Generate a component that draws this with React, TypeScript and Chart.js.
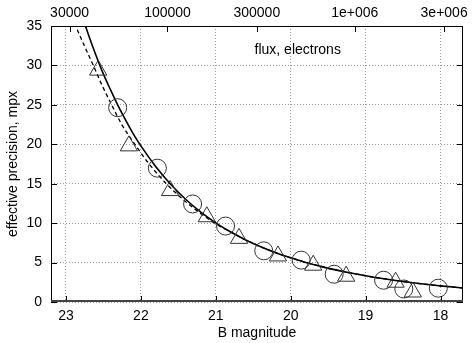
import React, { useEffect, useRef } from 'react';
import { Chart, registerables } from 'chart.js';

Chart.register(...registerables);

// ---- data ----
const magTickValues = [23, 22, 21, 20, 19, 18];
const precisionTickValues = [0, 5, 10, 15, 20, 25, 30, 35];
const fluxTickValues = [30000, 100000, 300000, 1000000, 3000000];
const fluxTickLabels = ['30000', '100000', '300000', '1e+006', '3e+006'];

const solidMag = [22.8, 22.7, 22.6, 22.5, 22.4, 22.3, 22.2, 22.1, 22.0, 21.8, 21.6, 21.4, 21.2, 21.0, 20.8, 20.6, 20.4, 20.2, 20.0, 19.8, 19.6, 19.4, 19.2, 19.0, 18.8, 18.6, 18.4, 18.2, 18.0, 17.7];
const solidPrec = [36.7, 33.9, 31.3, 28.9, 26.8, 24.8, 23.0, 21.3, 19.8, 17.15, 14.9, 13.0, 11.4, 10.04, 8.87, 7.87, 7.0, 6.25, 5.6, 5.02, 4.52, 4.07, 3.68, 3.33, 3.01, 2.73, 2.48, 2.25, 2.05, 1.77];

const dashedMag = [22.92, 22.87, 22.755, 22.635, 22.52, 22.39, 22.255, 22.08, 21.89, 21.66, 21.375, 21.015, 20.8, 20.6, 20.4, 20.2, 20.0, 19.8, 19.6, 19.4, 19.2, 19.0, 18.8, 18.6, 18.4, 18.2, 18.0, 17.7];
const dashedPrec = [36.2, 35.0, 32.5, 30.0, 27.5, 25.0, 22.5, 20.0, 17.5, 15.0, 12.5, 10.0, 8.87, 7.87, 7.0, 6.25, 5.6, 5.02, 4.52, 4.07, 3.68, 3.33, 3.01, 2.73, 2.48, 2.25, 2.05, 1.77];

const circleMag = [22.31, 21.78, 21.31, 20.87, 20.36, 19.86, 19.42, 18.76, 18.49, 18.03];
const circlePrec = [24.64, 16.97, 12.43, 9.63, 6.49, 5.31, 3.52, 2.76, 1.65, 1.75];

const triangleMag = [22.57, 22.16, 21.61, 21.12, 20.69, 20.17, 19.7, 19.26, 18.6, 18.37];
const trianglePrec = [29.4, 19.8, 14.13, 10.81, 8.07, 5.84, 4.67, 3.27, 2.51, 1.27];

const MAG_MIN = 17.7;
const MAG_MAX = 23.2;
const FLUX_ZP_LOG = 13.658; // log10(flux) at magnitude 0
const magToFlux = (m: number) => Math.pow(10, FLUX_ZP_LOG - 0.4 * m);

const FONT = "'Liberation Sans', Arial, sans-serif";
const FS = 14;

const toPoints = (xs: number[], ys: number[]) => xs.map((x, i) => ({ x, y: ys[i] }));

const framePlugin = {
  id: 'frameTicks',
  afterDraw(chart: any) {
    const { ctx, chartArea, scales } = chart;
    const { left, right, top, bottom } = chartArea;
    const tl = 6;
    ctx.save();
    ctx.strokeStyle = '#000';
    ctx.lineWidth = 1;
    ctx.beginPath();
    magTickValues.forEach((v) => {
      const px = Math.round(scales.x.getPixelForValue(v)) + 0.5;
      ctx.moveTo(px, bottom);
      ctx.lineTo(px, bottom - tl);
    });
    fluxTickValues.forEach((v) => {
      const px = Math.round(scales.x2.getPixelForValue(v)) + 0.5;
      ctx.moveTo(px, top);
      ctx.lineTo(px, top + tl);
    });
    precisionTickValues.forEach((v) => {
      const py = Math.round(scales.y.getPixelForValue(v)) + 0.5;
      ctx.moveTo(left, py);
      ctx.lineTo(left + tl, py);
      ctx.moveTo(right, py);
      ctx.lineTo(right - tl, py);
    });
    ctx.stroke();
    ctx.strokeRect(left + 0.5, top + 0.5, right - left - 1, bottom - top - 1);
    ctx.strokeStyle = '#444';
    ctx.lineWidth = 2;
    ctx.beginPath();
    ctx.moveTo(left, bottom - 1);
    ctx.lineTo(right, bottom - 1);
    ctx.stroke();
    // key label
    ctx.fillStyle = '#000';
    ctx.font = `${FS}px ${FONT}`;
    ctx.textAlign = 'left';
    ctx.textBaseline = 'middle';
    ctx.fillText('flux, electrons', left + (right - left) * 0.494, top + (bottom - top) * 0.088);
    ctx.restore();
  },
};

export default function App() {
  const ref = useRef<HTMLCanvasElement | null>(null);
  useEffect(() => {
    if (!ref.current) return;
    const chart = new Chart(ref.current, {
      type: 'line',
      data: {
        datasets: [
          {
            label: 'circles',
            data: toPoints(circleMag, circlePrec),
            showLine: false,
            pointStyle: 'circle',
            pointRadius: 9,
            pointBorderWidth: 1,
            pointBorderColor: '#333',
            pointBackgroundColor: 'rgba(0,0,0,0)',
          },
          {
            label: 'triangles',
            data: toPoints(triangleMag, trianglePrec),
            showLine: false,
            pointStyle: 'triangle',
            pointRadius: 10,
            pointBorderWidth: 1,
            pointBorderColor: '#333',
            pointBackgroundColor: 'rgba(0,0,0,0)',
          },
          {
            label: 'solid',
            data: toPoints(solidMag, solidPrec),
            borderColor: '#000',
            borderWidth: 1.6,
            pointRadius: 0,
            cubicInterpolationMode: 'monotone',
            fill: false,
          },
          {
            label: 'dashed',
            data: toPoints(dashedMag, dashedPrec),
            borderColor: '#000',
            borderWidth: 1.3,
            borderDash: [4, 3],
            pointRadius: 0,
            cubicInterpolationMode: 'monotone',
            fill: false,
          },
        ],
      },
      options: {
        animation: false,
        responsive: false,
        devicePixelRatio: 1,
        layout: { padding: { left: 0, right: 5, top: 0, bottom: 0 } },
        plugins: { legend: { display: false }, tooltip: { enabled: false } },
        scales: {
          x: {
            type: 'linear',
            position: 'bottom',
            reverse: true,
            min: MAG_MIN,
            max: MAG_MAX,
            afterBuildTicks: (s: any) => {
              s.ticks = magTickValues.map((v) => ({ value: v }));
            },
            afterFit: (s: any) => {
              s.height = 41;
              s.paddingLeft = 0;
              s.paddingRight = 0;
            },
            ticks: {
              autoSkip: false,
              maxRotation: 0,
              padding: 6,
              color: '#000',
              font: { family: FONT, size: FS },
              callback: (v: any) => String(v),
            },
            grid: { color: '#999', lineWidth: 1, drawTicks: false },
            border: { display: false, dash: [1, 2] },
            title: {
              display: true,
              text: 'B magnitude',
              color: '#000',
              font: { family: FONT, size: FS },
              padding: { top: 0, bottom: 1 },
            },
          },
          x2: {
            type: 'logarithmic',
            position: 'top',
            min: magToFlux(MAG_MAX),
            max: magToFlux(MAG_MIN),
            afterBuildTicks: (s: any) => {
              s.ticks = fluxTickValues.map((v) => ({ value: v }));
            },
            afterFit: (s: any) => {
              s.height = 26;
              s.paddingLeft = 0;
              s.paddingRight = 0;
            },
            ticks: {
              autoSkip: false,
              maxRotation: 0,
              padding: 4,
              color: '#000',
              font: { family: FONT, size: FS },
              callback: (v: any) => {
                const i = fluxTickValues.indexOf(Number(v));
                return i >= 0 ? fluxTickLabels[i] : '';
              },
            },
            grid: { display: false, drawTicks: false },
            border: { display: false },
          },
          y: {
            type: 'linear',
            position: 'left',
            min: 0,
            max: 35,
            afterBuildTicks: (s: any) => {
              s.ticks = precisionTickValues.map((v) => ({ value: v }));
            },
            afterFit: (s: any) => {
              s.width = 51;
              s.paddingTop = 0;
              s.paddingBottom = 0;
            },
            ticks: {
              padding: 9,
              color: '#000',
              font: { family: FONT, size: FS },
            },
            grid: { color: '#999', lineWidth: 1, drawTicks: false },
            border: { display: false, dash: [1, 2] },
            title: {
              display: true,
              text: 'effective precision, mpx',
              color: '#000',
              font: { family: FONT, size: FS },
              padding: { top: 5, bottom: 0 },
            },
          },
        },
      },
      plugins: [framePlugin],
    } as any);
    return () => chart.destroy();
  }, []);
  return (
    <div style={{ position: 'absolute', left: 0, top: 0, width: 474, height: 343 }}>
      <canvas ref={ref} width={474} height={343} />
    </div>
  );
}
